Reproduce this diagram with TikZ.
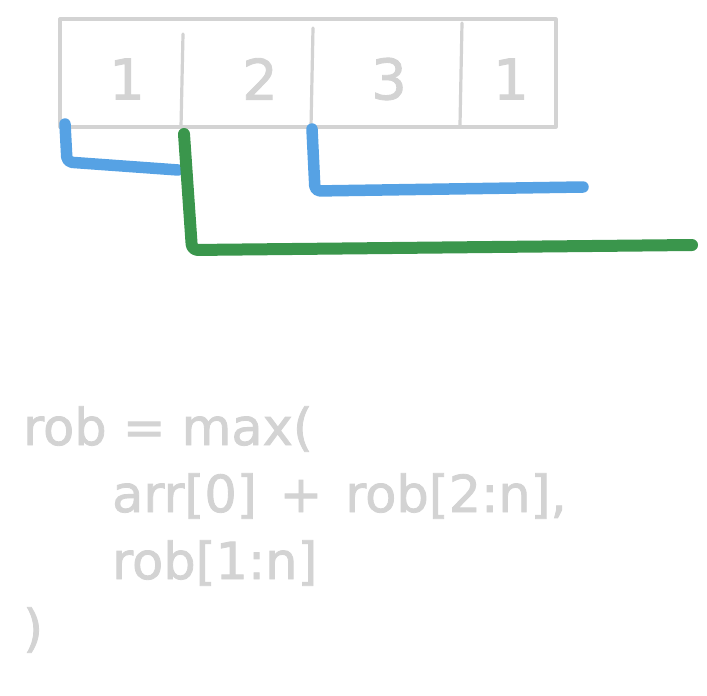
\documentclass[tikz,border=0pt]{standalone}
\usepackage{fontspec}
\setmainfont{DejaVu Sans}
\newfontfamily\sketchfont[FakeBold=1.6]{DejaVu Sans}
\usepackage{xcolor}
\usepackage{tikz}

\definecolor{cellgrey}{RGB}{211,211,211}
\definecolor{skyblue}{RGB}{86,162,228}
\definecolor{leafgreen}{RGB}{58,150,76}

\begin{document}
\begin{tikzpicture}[
    x=1pt, y=-1pt,
    cellline/.style={draw=cellgrey, line width=3.2pt, line cap=round, line join=round},
    digit/.style={text=cellgrey, font=\sketchfont\fontsize{56}{60}\selectfont, inner sep=0pt},
    code/.style={text=cellgrey, font=\sketchfont\fontsize{51}{60}\selectfont, inner sep=0pt, anchor=base west},
    blueleg/.style={draw=skyblue, line width=11.5pt, line cap=round, line join=round, rounded corners=5pt},
    greenleg/.style={draw=leafgreen, line width=12pt, line cap=round, line join=round, rounded corners=6pt},
]
\useasboundingbox (0,0) rectangle (707,696);

% Array
\draw[cellline] (60,19) rectangle (556,127);
\draw[cellline] (183,34) -- (181,127);
\draw[cellline] (313,28) -- (311,127);
\draw[cellline] (462,23) -- (460,125);

\node[digit] (d0) at (127,79) {1};
\node[digit] (d1) at (260,79) {2};
\node[digit] (d2) at (389,79) {3};
\node[digit] (d3) at (511,79) {1};

% Brackets
\coordinate (a0) at (65,124);
\coordinate (a1) at (67,162);
\coordinate (a2) at (178,170);
\coordinate (b0) at (184,134);
\coordinate (b1) at (192,250);
\coordinate (b2) at (692,245);
\coordinate (c0) at (312,129);
\coordinate (c1) at (315,191);
\coordinate (c2) at (583,187);

\draw[blueleg] (a0) -- (a1) -- (a2);
\draw[blueleg] (c0) -- (c1) -- (c2);
\draw[greenleg] (b0) -- (b1) -- (b2);

% Recurrence
\node[code] (l0) at (23,445) {rob = max(};
\node[code] (l1) at (112,512) {arr[0]\hspace{0.45em}+\hspace{0.45em}rob[2:n],};
\node[code] (l2) at (112,579) {rob[1:n]};
\node[code] (l3) at (23,646) {)};

\end{tikzpicture}
\end{document}
